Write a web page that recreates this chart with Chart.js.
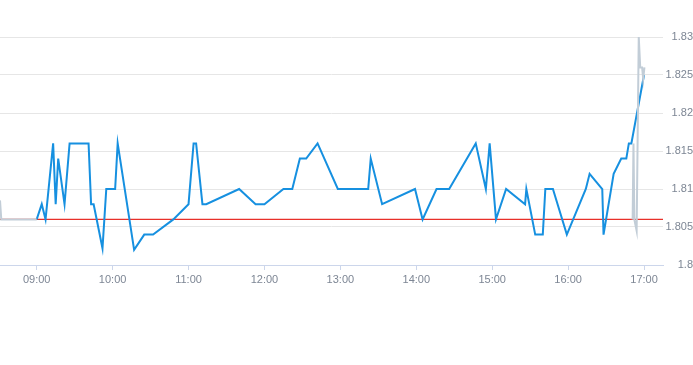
<!DOCTYPE html>
<html>
<head>
<meta charset="utf-8">
<script src="https://cdn.jsdelivr.net/npm/chart.js@4/dist/chart.umd.min.js"></script>
<style>
  html, body { margin: 0; padding: 0; background: #ffffff; }
  #wrap { width: 693px; height: 365px; }
</style>
</head>
<body>
<div id="wrap"><canvas id="c" width="693" height="365"></canvas></div>
<script>
// ---- data ----
const mainTimes = ["09:00","09:04","09:07","09:13","09:15","09:17","09:22","09:26","09:41","09:43","09:45","09:52","09:55","10:02","10:04","10:17","10:25","10:32","10:48","11:00","11:04","11:06","11:11","11:14","11:40","11:53","12:00","12:15","12:22","12:28","12:33","12:42","12:58","13:22","13:24","13:33","13:59","14:05","14:16","14:26","14:47","14:55","14:58","15:03","15:11","15:26","15:27","15:34","15:40","15:42","15:48","15:59","16:14","16:17","16:27","16:28","16:36","16:42","16:46","16:48","16:50","17:00"];
const mainValues = [1.806,1.808,1.806,1.816,1.808,1.814,1.808,1.816,1.816,1.808,1.808,1.8022,1.810,1.810,1.816,1.802,1.804,1.804,1.806,1.808,1.816,1.816,1.808,1.808,1.810,1.808,1.808,1.810,1.810,1.814,1.814,1.816,1.810,1.810,1.814,1.808,1.810,1.806,1.810,1.810,1.816,1.810,1.816,1.806,1.810,1.808,1.810,1.804,1.804,1.810,1.810,1.804,1.810,1.812,1.810,1.804,1.812,1.814,1.814,1.816,1.816,1.825];

const preTimes = ["08:31:00","08:32:00","09:00:00"];
const preValues = [1.8085, 1.806, 1.806];

const postTimes = ["16:51:00","16:51:40","16:52:20","16:54:10","16:55:50","16:57:00","16:58:30","16:59:20","17:00:20"];
const postValues = [1.806, 1.816, 1.806, 1.8045, 1.830, 1.826, 1.826, 1.8245, 1.826];

const refLevel = 1.806;

const xTickTimes = ["09:00","10:00","11:00","12:00","13:00","14:00","15:00","16:00","17:00"];
const xRange = ["08:31","17:15"];
const yRange = [1.8, 1.83];
const yStep = 0.005;

// ---- helpers ----
function toMin(s) {
  const p = s.split(":").map(Number);
  return p[0] * 60 + p[1] + (p.length > 2 ? p[2] / 60 : 0);
}
function fmtMin(v) {
  const h = Math.floor(v / 60), m = Math.round(v - h * 60);
  return String(h).padStart(2, "0") + ":" + String(m).padStart(2, "0");
}
const pts = (ts, vs) => ts.map((t, i) => ({ x: toMin(t), y: vs[i] }));

const grayData = pts(preTimes, preValues)
  .concat([{ x: (toMin(preTimes[preTimes.length - 1]) + toMin(postTimes[0])) / 2, y: null }])
  .concat(pts(postTimes, postValues));

const xMin = toMin(xRange[0]), xMax = toMin(xRange[1]);

const labelColor = "#7d8694";
const labelFont = { family: "'Liberation Sans', Arial, sans-serif", size: 11 };

new Chart(document.getElementById("c"), {
  type: "line",
  data: {
    datasets: [
      {
        label: "extended",
        data: grayData,
        borderColor: "#c2cdd7",
        borderWidth: 2,
        pointRadius: 0,
        tension: 0,
        spanGaps: false,
        order: 0
      },
      {
        label: "price",
        data: pts(mainTimes, mainValues),
        borderColor: "#1690e0",
        borderWidth: 2,
        pointRadius: 0,
        tension: 0,
        order: 1
      },
      {
        label: "reference",
        data: [{ x: xMin, y: refLevel }, { x: xMax, y: refLevel }],
        borderColor: "#e8302a",
        borderWidth: 1.2,
        pointRadius: 0,
        tension: 0,
        order: 2
      }
    ]
  },
  options: {
    responsive: false,
    animation: false,
    events: [],
    layout: { padding: { top: 37, left: 0, right: 0, bottom: 0 } },
    plugins: { legend: { display: false }, tooltip: { enabled: false } },
    scales: {
      x: {
        type: "linear",
        min: xMin,
        max: xMax,
        afterBuildTicks: (axis) => { axis.ticks = xTickTimes.map(t => ({ value: toMin(t) })); },
        afterFit: (scale) => { scale.height = 100; },
        grid: {
          drawOnChartArea: false,
          drawTicks: true,
          tickLength: 5,
          tickColor: "#ccd6eb",
          tickWidth: 1
        },
        border: { display: true, color: "#ccd6eb", width: 1 },
        ticks: {
          autoSkip: false,
          maxRotation: 0,
          padding: 3,
          color: labelColor,
          font: labelFont,
          callback: (v) => fmtMin(v)
        }
      },
      y: {
        type: "linear",
        position: "right",
        min: yRange[0],
        max: yRange[1],
        afterFit: (scale) => { scale.width = 30; },
        grid: { color: "#e6e6e6", lineWidth: 1, drawTicks: false },
        border: { display: false },
        ticks: {
          stepSize: yStep,
          crossAlign: "far",
          padding: 0,
          color: labelColor,
          font: labelFont,
          callback: (v) => String(parseFloat(Number(v).toFixed(3)))
        }
      }
    }
  }
});
</script>
</body>
</html>
